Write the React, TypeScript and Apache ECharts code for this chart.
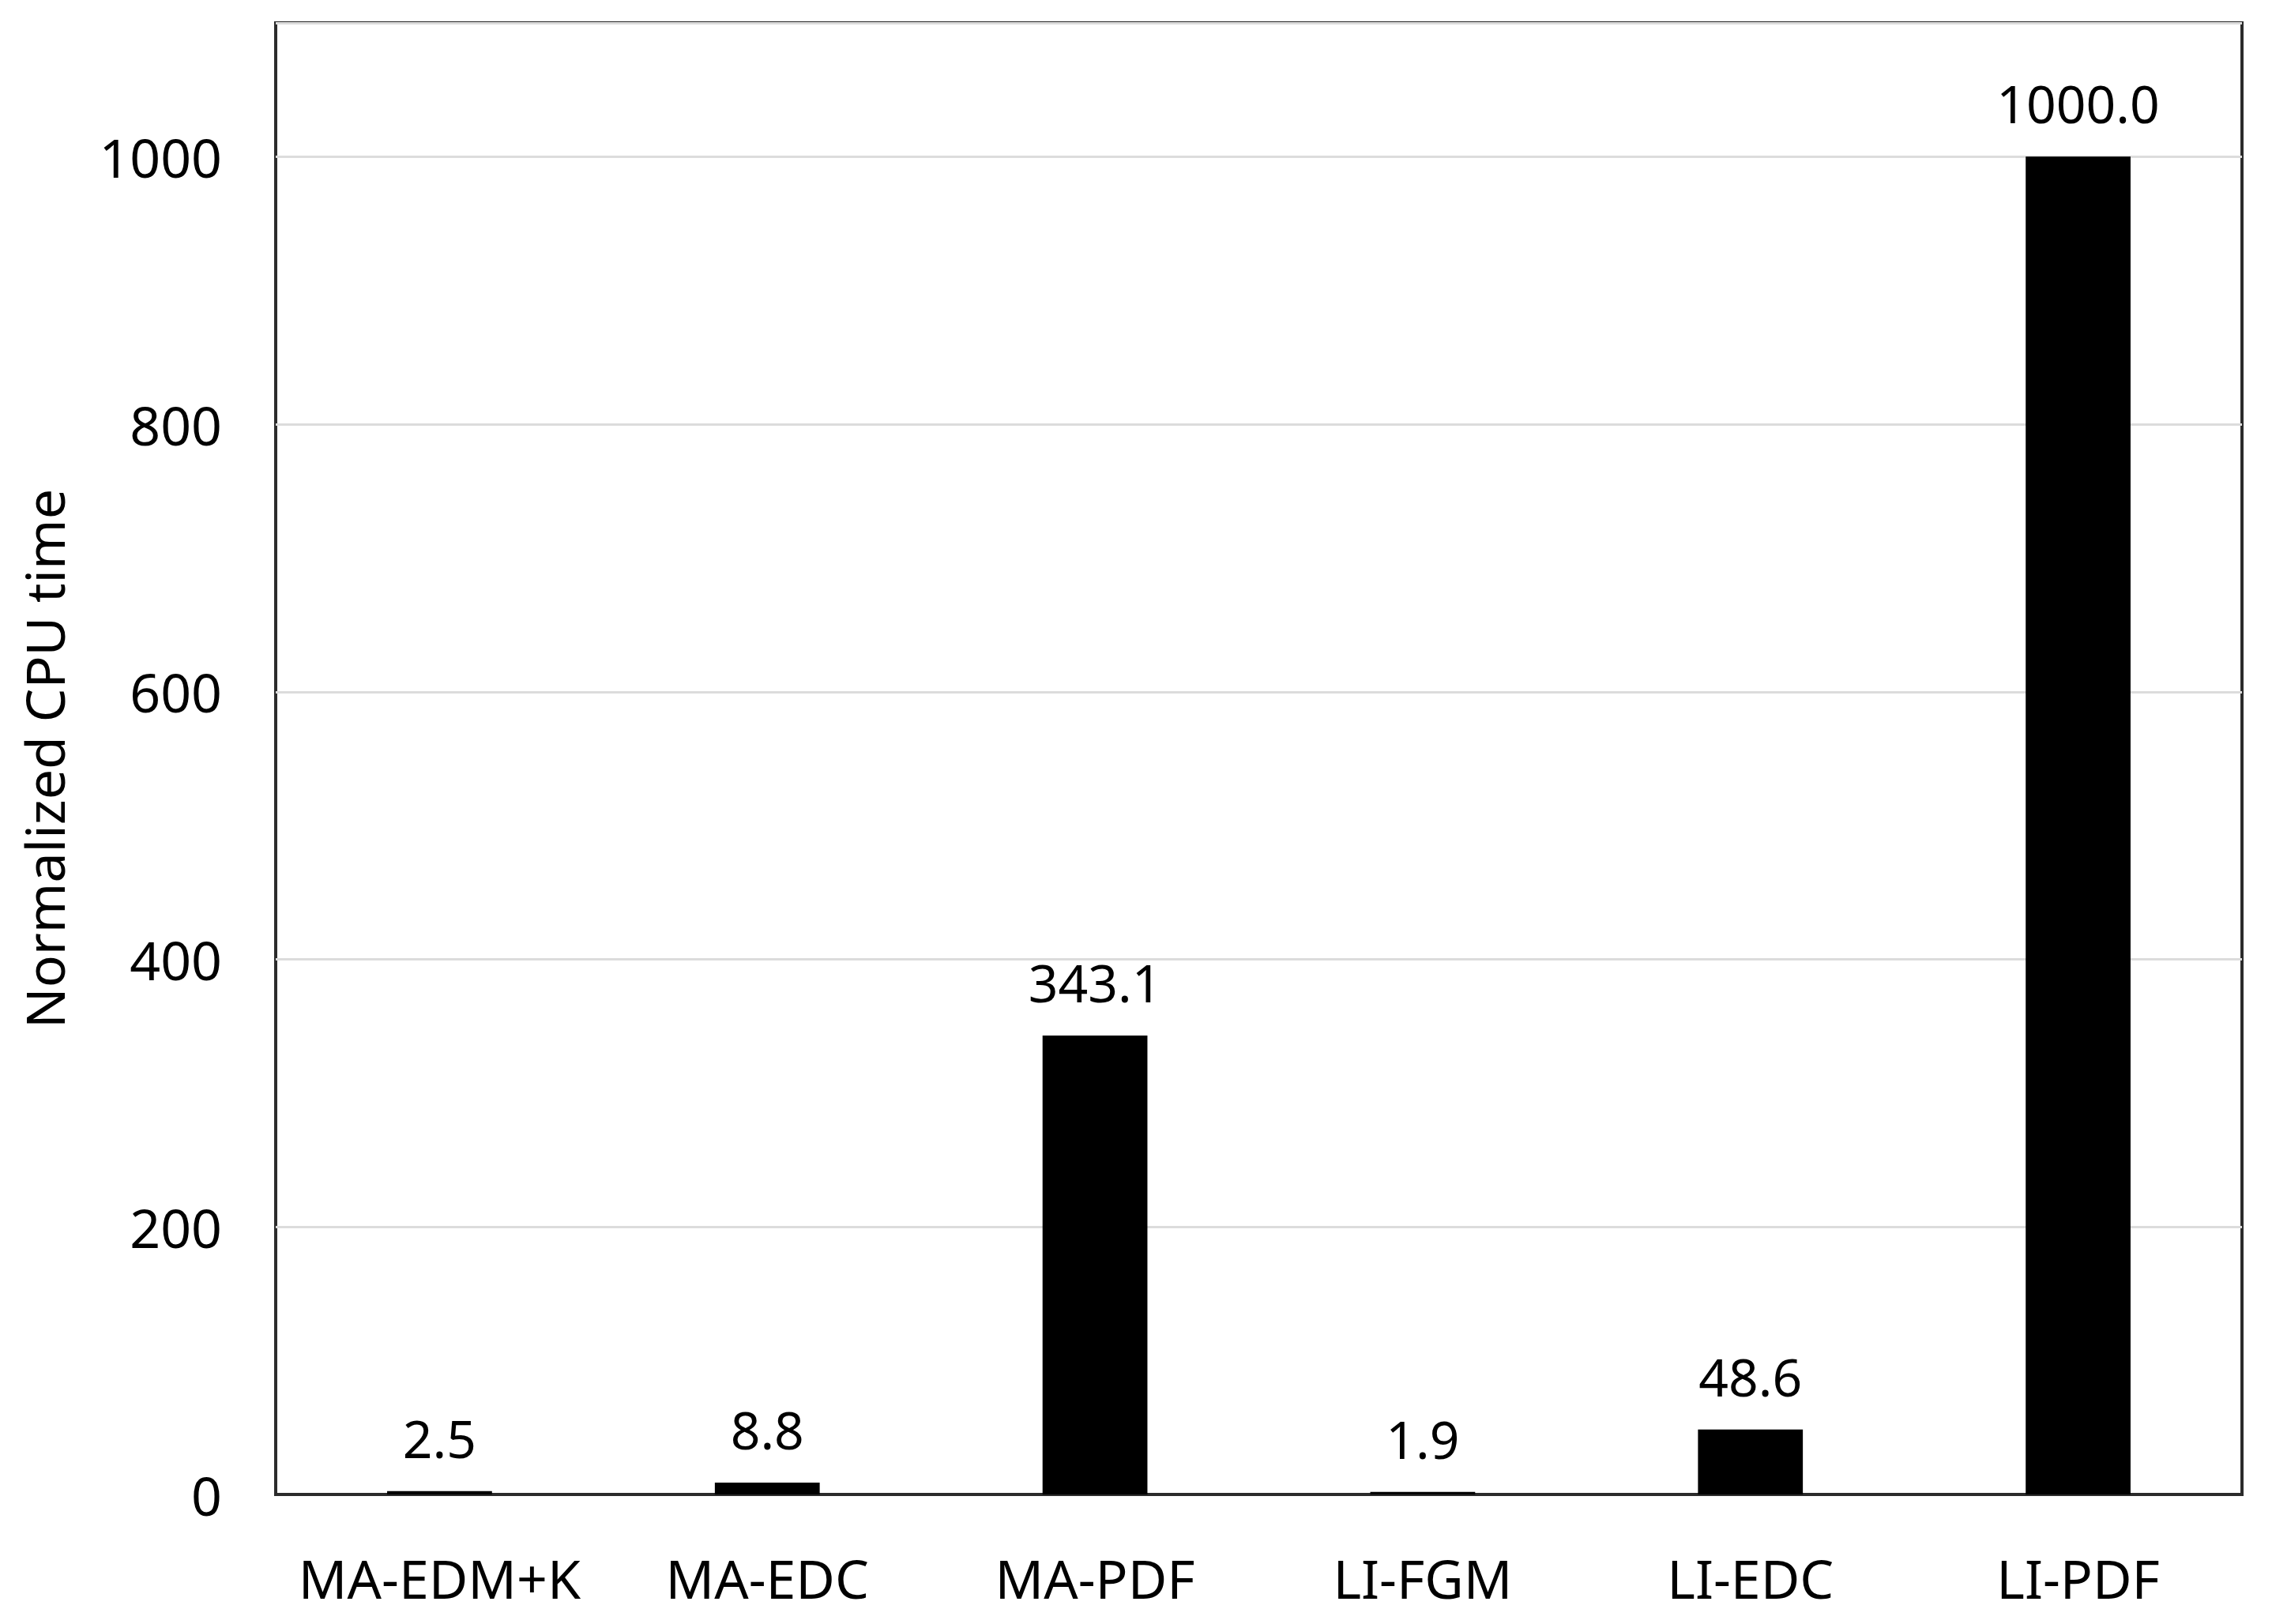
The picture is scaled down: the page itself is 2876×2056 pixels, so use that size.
import React, { useEffect, useRef } from "react";
import * as echarts from "echarts";

const categories = ["MA-EDM+K", "MA-EDC", "MA-PDF", "LI-FGM", "LI-EDC", "LI-PDF"];
const cpuTime = [2.5, 8.8, 343.1, 1.9, 48.6, 1000.0];
const yTicks = [0, 200, 400, 600, 800, 1000];
const yAxisTitle = "Normalized CPU time";

const FONT = "'Noto Sans', 'Open Sans', Lato, sans-serif";

export default function App() {
  const ref = useRef<HTMLDivElement>(null);
  useEffect(() => {
    document.body.style.margin = "0";
    if (!ref.current) return;
    const chart = echarts.init(ref.current, undefined, { renderer: "svg" });
    chart.setOption({
      animation: false,
      backgroundColor: "#ffffff",
      textStyle: { fontFamily: FONT },
      grid: {
        left: 349,
        right: 38,
        top: 29,
        bottom: 164,
        show: true,
        borderColor: "#2b2b2b",
        borderWidth: 4,
        backgroundColor: "transparent",
      },
      xAxis: {
        type: "category",
        data: categories,
        axisLine: { show: true, lineStyle: { color: "#2b2b2b", width: 4 } },
        axisTick: { show: false },
        axisLabel: {
          color: "#000",
          fontSize: 68,
          fontFamily: FONT,
          margin: 71,
          interval: 0,
        },
      },
      yAxis: {
        type: "value",
        min: 0,
        max: 1100,
        interval: 200,
        name: yAxisTitle,
        nameLocation: "middle",
        nameGap: 260,
        nameTextStyle: { color: "#000", fontSize: 68, fontFamily: FONT },
        axisLine: { show: false },
        axisTick: { show: false },
        splitLine: { show: true, lineStyle: { color: "#dcdcdc", width: 3 } },
        axisLabel: {
          color: "#000",
          fontSize: 68,
          fontFamily: FONT,
          margin: 68,
          showMaxLabel: false,
          formatter: (v: number) => (yTicks.includes(v) ? String(v) : ""),
        },
      },
      series: [
        {
          type: "bar",
          data: cpuTime,
          barWidth: "32%",
          itemStyle: { color: "#000000" },
          label: {
            show: true,
            position: "top",
            distance: 35,
            color: "#000",
            fontSize: 66,
            fontFamily: FONT,
            formatter: (p: any) => Number(p.value).toFixed(1),
          },
        },
      ],
    });
    return () => chart.dispose();
  }, []);
  return <div ref={ref} style={{ width: 2876, height: 2056 }} />;
}
